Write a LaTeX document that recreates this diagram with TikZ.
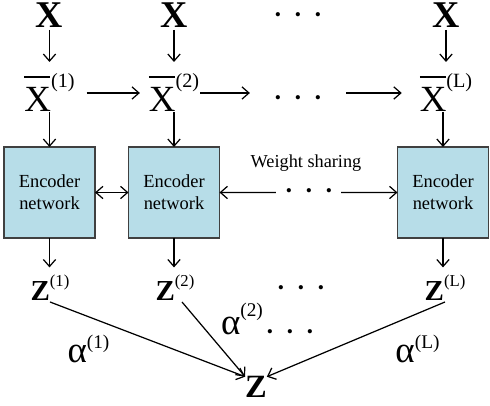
\documentclass[tikz,border=0pt]{standalone}
\usepackage{fontspec}
\setmainfont{Liberation Serif}
\usetikzlibrary{arrows.meta}
\definecolor{encblue}{RGB}{183,221,232}
\newcommand{\barX}{\rlap{\rule[0.92em]{0.7em}{0.05em}}X}
\newcommand{\supr}[3]{\raisebox{#1}{\fontsize{#2}{#2}\selectfont(#3)}}
\newcommand{\threedots}{•\hspace{7.9pt}•\hspace{7.9pt}•}

\begin{document}
\begin{tikzpicture}[inner sep=0pt,outer sep=0pt,line width=0.7pt,>={Straight Barb[length=4pt,width=7pt]},
encoder/.style={draw=black!75,fill=encblue,rectangle,minimum width=1.82cm,minimum height=1.82cm,align=center,font=\fontsize{10.5}{12.5}\selectfont},
inputx/.style={anchor=base,font=\fontsize{21.5}{21.5}\selectfont\bfseries},
barx/.style={anchor=base,font=\fontsize{21}{21}\selectfont},
zlab/.style={anchor=base,font=\fontsize{16.5}{16.5}\selectfont},
alphalab/.style={anchor=base,font=\fontsize{21}{21}\selectfont},
dotrow/.style={anchor=base,font=\fontsize{10}{10}\selectfont}]

\useasboundingbox (0,0) rectangle (9.8,8.12);

% inputs
\draw (0.99,7.56) node[inputx] (x1) {X};
\draw (3.48,7.56) node[inputx] (x2) {X};
\draw (5.96,7.71) node[dotrow] (xdots) {\threedots};
\draw (8.92,7.56) node[inputx] (xL) {X};

% corrupted inputs
\draw (0.99,5.88) node[barx] (xb1) {\barX\supr{0.48cm}{11.5}{1}};
\draw (3.48,5.88) node[barx] (xb2) {\barX\supr{0.48cm}{11.5}{2}};
\draw (5.96,6.05) node[dotrow] (xbdots) {\threedots};
\draw (8.92,5.88) node[barx] (xbL) {\barX\supr{0.48cm}{11.5}{L}};

% encoders
\draw (0.99,4.27) node[encoder] (enc1) {Encoder\\network};
\draw (3.48,4.27) node[encoder] (enc2) {Encoder\\network};
\draw (8.86,4.27) node[encoder] (encL) {Encoder\\network};
\draw (6.12,4.76) node[anchor=base,font=\fontsize{10.4}{12}\selectfont] (ws) {Weight sharing};
\draw (6.18,4.19) node[dotrow] (wdots) {\threedots};

% codes
\draw (1.0,2.1) node[zlab] (z1) {\textbf{Z}\supr{0.28cm}{9.5}{1}};
\draw (3.5,2.1) node[zlab] (z2) {\textbf{Z}\supr{0.28cm}{9.5}{2}};
\draw (6.02,2.25) node[dotrow] (zdots) {\threedots};
\draw (8.9,2.1) node[zlab] (zL) {\textbf{Z}\supr{0.28cm}{9.5}{L}};

% fusion
\draw (1.77,0.86) node[alphalab] (a1) {α\supr{0.28cm}{11}{1}};
\draw (4.84,1.42) node[alphalab] (a2) {α\supr{0.36cm}{11}{2}};
\draw (5.80,1.37) node[dotrow] (adots) {\threedots};
\draw (8.35,0.86) node[alphalab] (aL) {α\supr{0.28cm}{11}{L}};
\draw (5.12,0.16) node[anchor=base,font=\fontsize{18.5}{18.5}\selectfont\bfseries] (zz) {Z};

\draw[->] ([yshift=-.04cm]x1.south) -- ([yshift=.24cm]x1.south |- xb1.north);
\draw[->] ([yshift=-.04cm]x2.south) -- ([yshift=.24cm]x2.south |- xb2.north);
\draw[->] ([yshift=-.04cm]xL.south) -- ([yshift=.24cm]xL.south |- xbL.north);

\draw[->] ([xshift=.24cm,yshift=.38cm]xb1.base east) -- ([xshift=-.18cm,yshift=.38cm]xb2.base west);
\draw[->] ([xshift=.02cm,yshift=.38cm]xb2.base east) -- ([xshift=-.5cm,yshift=.21cm]xbdots.base west);
\draw[->] ([xshift=.5cm,yshift=.21cm]xbdots.base east) -- ([xshift=-.36cm,yshift=.38cm]xbL.base west);

\draw[->] (enc1.north |- xb1.base) -- (enc1.north);
\draw[->] (enc2.north |- xb2.base) -- (enc2.north);
\draw[->] (encL.north |- xbL.base) -- (encL.north);

\draw[<->] (enc1) -- (enc2);
\draw[<-] (enc2.east) -- ([xshift=-.2cm,yshift=.08cm]wdots.base west);
\draw[->] ([xshift=.18cm,yshift=.08cm]wdots.base east) -- (encL.west);

\draw[->,shorten >=.16cm] (enc1.south) -- (enc1.south |- z1.north);
\draw[->,shorten >=.16cm] (enc2.south) -- (enc2.south |- z2.north);
\draw[->,shorten >=.16cm] (encL.south) -- (encL.south |- zL.north);

\draw[->] ([yshift=-.02cm]z1.south) -- (zz.north west);
\draw[->] ([xshift=.14cm,yshift=-.02cm]z2.south) -- (zz.north west);
\draw[->] ([yshift=-.02cm]zL.south) -- (zz.north east);
\end{tikzpicture}
\end{document}
